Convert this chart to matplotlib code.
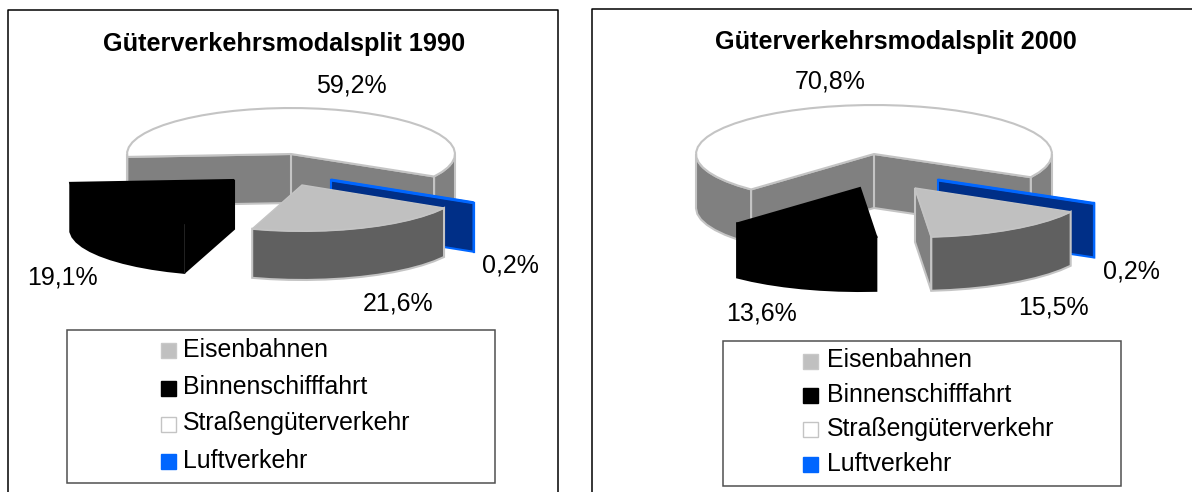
#!/usr/bin/env python3
"""Gueterverkehrsmodalsplit 1990 / 2000 - two exploded pseudo-3D pies."""

import numpy as np
import matplotlib
matplotlib.use("Agg")
import matplotlib.pyplot as plt
from matplotlib.patches import Polygon, Rectangle

plt.rcParams['font.family'] = ['Liberation Sans', 'DejaVu Sans']

# Data
categories = ['Eisenbahnen', 'Binnenschifffahrt', 'Straßengüterverkehr', 'Luftverkehr']
share_1990 = [21.6, 19.1, 59.2, 0.2]
share_2000 = [15.5, 13.6, 70.8, 0.2]
title_1990 = 'Güterverkehrsmodalsplit 1990'
title_2000 = 'Güterverkehrsmodalsplit 2000'

# Styles per category: top, wall, edge
TOP = ['#c0c0c0', '#000000', '#ffffff', '#002f87']
WALL = ['#606060', '#000000', '#808080', '#002f87']
EDGE = ['#c4c4c4', '#000000', '#c4c4c4', '#0066ff']
SWATCH = ['#c0c0c0', '#000000', '#ffffff', '#0066ff']
SWATCH_EDGE = ['#c8c8c8', '#000000', '#c4c4c4', '#0066ff']

# Layout in image pixels
LAYOUT_1990 = dict(
    cx=291, cy=154, a=164, b=46, depth=49, start=-30,
    offsets=[(11, 31), (-57, 26), (0, 0), (40, 26)],
    label_pos=[(398, 304), (62, 278), (351, 85), (510, 266)],
    title_pos=(284, 44),
    legend_box=(67, 330, 495, 483),
    swatch_x=161, text_x=183,
    swatch_y=[350, 388, 424, 461], text_y=[350, 387, 423, 461],
)
LAYOUT_2000 = dict(
    cx=874, cy=154, a=178, b=49, depth=54, start=-29,
    offsets=[(41, 34), (-14, 34), (0, 0), (64, 26)],
    label_pos=[(1053, 307), (761, 313), (830, 81), (1131, 272)],
    title_pos=(896, 42),
    legend_box=(723, 341, 1121, 486),
    swatch_x=803, text_x=827,
    swatch_y=[361, 395, 429, 464], text_y=[360, 395, 429, 464],
)


def rim(lay, off, t):
    """Point(s) on the top ellipse of a slice for angle(s) t in degrees."""
    t = np.radians(t)
    return (lay['cx'] + off[0] + lay['a'] * np.cos(t),
            lay['cy'] + off[1] - lay['b'] * np.sin(t))


def arc_points(lay, off, t_from, t_to):
    n = max(int(abs(t_from - t_to) / 6), 1) + 1
    ts = np.linspace(t_from, t_to, n)
    x, y = rim(lay, off, ts)
    return ts, np.column_stack([x, y])


def cut_face(ax, lay, off, t, face, edge, z, lw=1.5):
    vx, vy = lay['cx'] + off[0], lay['cy'] + off[1]
    rx, ry = rim(lay, off, t)
    d = lay['depth']
    ax.add_patch(Polygon([(vx, vy), (rx, ry), (rx, ry + d), (vx, vy + d)],
                         closed=True, facecolor=face, edgecolor=edge, linewidth=lw, zorder=z))


def outer_walls(ax, lay, off, t_from, t_to, face, edge, z):
    # only the front half of the rim can be seen
    ts = np.linspace(t_from, t_to, int(abs(t_from - t_to) * 2) + 2)
    visible = np.sin(np.radians(ts)) <= 0
    idx = np.flatnonzero(visible)
    if len(idx) == 0:
        return
    for run in np.split(idx, np.flatnonzero(np.diff(idx) > 1) + 1):
        _, pts = arc_points(lay, off, ts[run[0]], ts[run[-1]])
        low = pts[::-1] + [0, lay['depth']]
        ax.add_patch(Polygon(np.vstack([pts, low]), closed=True, facecolor=face,
                             edgecolor=edge, linewidth=1.5, zorder=z))


def top_face(ax, lay, off, t_from, t_to, face, edge, z, lw=1.5):
    _, pts = arc_points(lay, off, t_from, t_to)
    centre = [lay['cx'] + off[0], lay['cy'] + off[1]]
    ax.add_patch(Polygon(np.vstack([[centre], pts]), closed=True, facecolor=face,
                         edgecolor=edge, linewidth=lw, zorder=z))


def draw_pie(ax, values, lay, title):
    sweep = 360.0 * np.array(values) / np.sum(values)
    # slices run clockwise from the start angle: rail, ship, road, air
    t_rail = lay['start']
    t_ship = t_rail - sweep[0]
    t_road = t_ship - sweep[1]
    t_air = t_road - sweep[2]
    off = lay['offsets']

    # road, the big slice at the back
    road_from = t_road + 360
    road_to = road_from - sweep[2]
    outer_walls(ax, lay, off[2], road_from, road_to, WALL[2], EDGE[2], 2)
    cut_face(ax, lay, off[2], road_to, WALL[2], EDGE[2], 2.1)
    cut_face(ax, lay, off[2], road_from, WALL[2], EDGE[2], 2.1)
    top_face(ax, lay, off[2], road_from, road_to, TOP[2], EDGE[2], 2.2)

    # air, only its cut face shows
    t_air_mid = t_air - sweep[3] / 2
    cut_face(ax, lay, off[3], t_air_mid, WALL[3], EDGE[3], 3, lw=1.5)
    vx, vy = lay['cx'] + off[3][0], lay['cy'] + off[3][1]
    rx, ry = rim(lay, off[3], t_air_mid)
    ax.plot([vx, rx], [vy, ry], color=EDGE[3], lw=2.2, solid_capstyle='butt', zorder=3.1)
    ax.plot([rx, rx], [ry, ry + lay['depth']], color=EDGE[3], lw=1.6, zorder=3.1)

    # rail
    if np.cos(np.radians(t_ship)) > 0:
        cut_face(ax, lay, off[0], t_ship, WALL[2], EDGE[0], 4)
    outer_walls(ax, lay, off[0], t_rail, t_ship, WALL[0], EDGE[0], 4.1)
    top_face(ax, lay, off[0], t_rail, t_ship, TOP[0], EDGE[0], 4.2, lw=1.0)

    # ship
    if np.cos(np.radians(t_ship)) < 0:
        cut_face(ax, lay, off[1], t_ship, WALL[1], EDGE[1], 5)
    outer_walls(ax, lay, off[1], t_ship, t_road, WALL[1], EDGE[1], 5.1)
    top_face(ax, lay, off[1], t_ship, t_road, TOP[1], EDGE[1], 5.2)
    sx, sy = rim(lay, off[1], t_ship)
    if np.cos(np.radians(t_ship)) < 0:
        ax.plot([sx, sx], [sy, sy + lay['depth']], color='#303030', lw=0.5, zorder=5.3)

    # texts
    ax.text(*lay['title_pos'], title, ha='center', va='center', fontsize=18.2,
            fontweight='bold', color='black', zorder=6)
    for val, pos in zip(values, lay['label_pos']):
        ax.text(*pos, f'{val:.1f}%'.replace('.', ','), ha='center', va='center',
                fontsize=18, color='black', zorder=6)

    # legend
    x0, y0, x1, y1 = lay['legend_box']
    ax.add_patch(Rectangle((x0, y0), x1 - x0, y1 - y0, facecolor='white',
                           edgecolor='#505050', linewidth=1.1, zorder=6))
    for i, name in enumerate(categories):
        ax.add_patch(Rectangle((lay['swatch_x'], lay['swatch_y'][i] - 7), 14.5, 15,
                               facecolor=SWATCH[i], edgecolor=SWATCH_EDGE[i],
                               linewidth=1.0, zorder=7))
        ax.text(lay['text_x'], lay['text_y'][i], name, ha='left', va='center',
                fontsize=17.9, color='black', zorder=7)


def main():
    fig = plt.figure(figsize=(11.92, 4.92), dpi=100)
    ax = fig.add_axes([0, 0, 1, 1])
    ax.set_xlim(0, 1192)
    ax.set_ylim(492, 0)
    ax.axis('off')

    # chart frames run off the bottom (and right) of the picture
    ax.plot([8, 8, 558, 558], [495, 10, 10, 495], color='black', lw=1.1, zorder=1)
    ax.plot([592, 592, 1195], [495, 9, 9], color='black', lw=1.1, zorder=1)

    draw_pie(ax, share_1990, LAYOUT_1990, title_1990)
    draw_pie(ax, share_2000, LAYOUT_2000, title_2000)

    fig.savefig('out.png', dpi=100)
    plt.close(fig)


if __name__ == "__main__":
    main()
